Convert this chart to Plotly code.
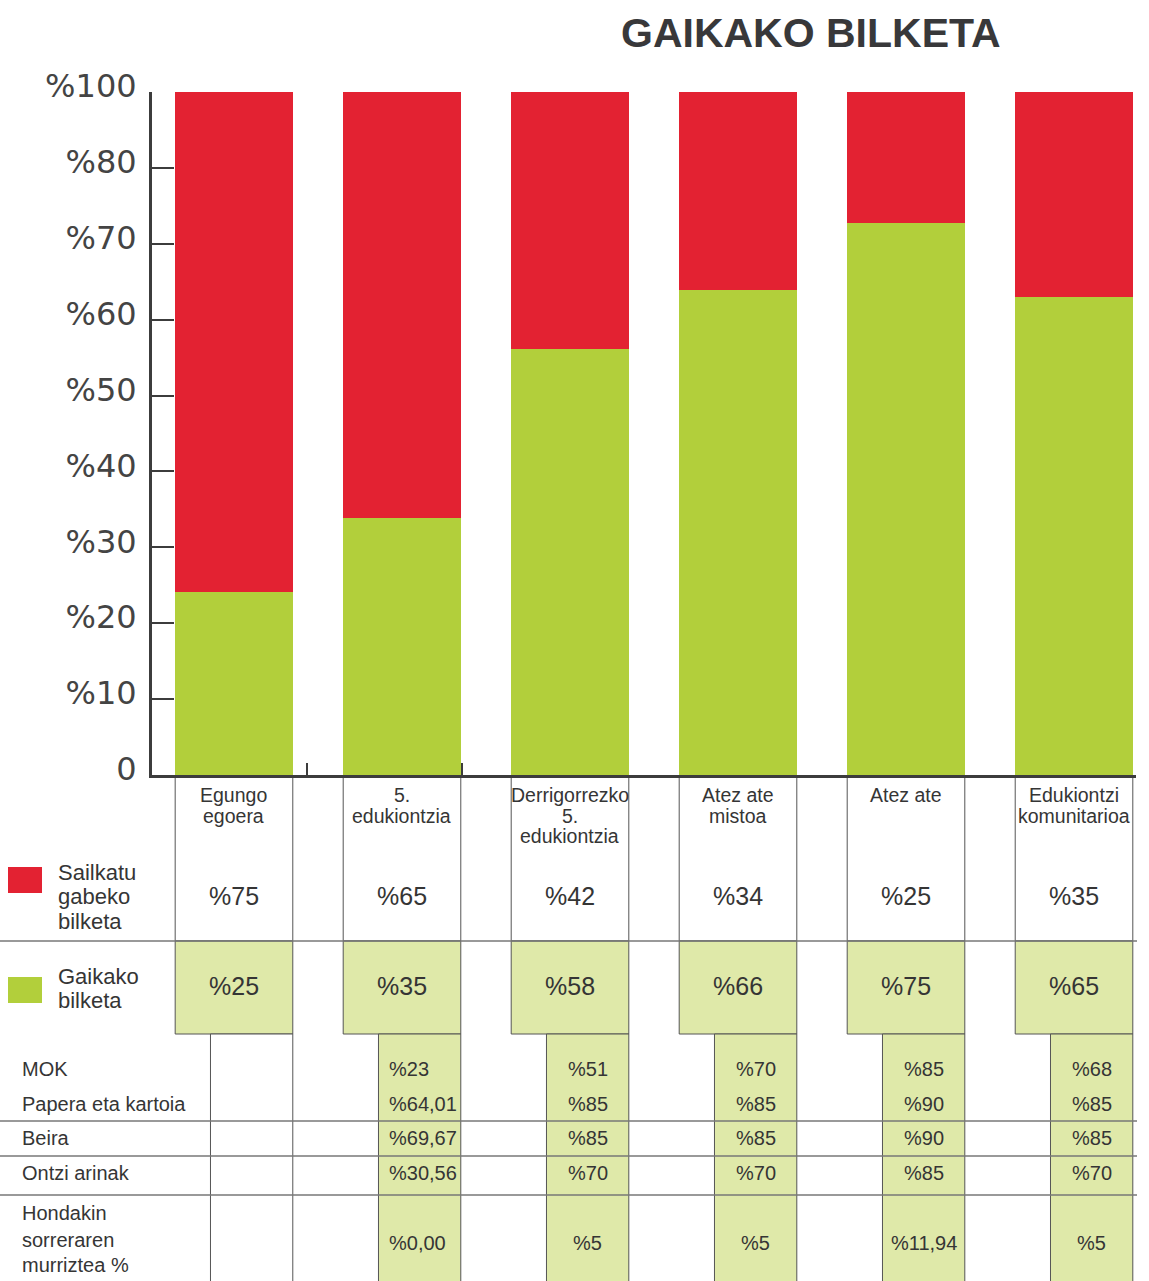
import plotly.graph_objects as go

# ---------------- data ----------------
title_text = "GAIKAKO BILKETA"
categories = ["Egungo\negoera", "5.\nedukiontzia", "Derrigorrezko\n5.\nedukiontzia",
              "Atez ate\nmistoa", "Atez ate", "Edukiontzi\nkomunitarioa"]
sailkatu_gabeko = ["%75", "%65", "%42", "%34", "%25", "%35"]
gaikako = ["%25", "%35", "%58", "%66", "%75", "%65"]
green_bar = [24.1, 33.9, 56.1, 63.9, 72.7, 63.0]
red_bar = [65.9, 56.1, 33.9, 26.1, 17.3, 27.0]
ytick_vals = [0, 10, 20, 30, 40, 50, 60, 70, 80, 90]
ytick_text = ["0", "%10", "%20", "%30", "%40", "%50", "%60", "%70", "%80", "%100"]
legend_labels = ["Sailkatu\ngabeko\nbilketa", "Gaikako\nbilketa"]
row_labels = ["MOK", "Papera eta kartoia", "Beira", "Ontzi arinak",
              "Hondakin\nsorreraren\nmurriztea %"]
mok = ["", "%23", "%51", "%70", "%85", "%68"]
papera = ["", "%64,01", "%85", "%85", "%90", "%85"]
beira = ["", "%69,67", "%85", "%85", "%90", "%85"]
ontzi = ["", "%30,56", "%70", "%70", "%85", "%70"]
murriztea = ["", "%0,00", "%5", "%5", "%11,94", "%5"]
table_rows = [mok, papera, beira, ontzi, murriztea]

# ---------------- style ----------------
W, H = 1149, 1281
ML, MR, MT, MB = 152, 13, 92, 506
RED = "#e32232"
GREEN = "#b2cf3b"
LIGHT = "#dfe9a9"
TXT = "#353535"
LINE = "#555555"
FONT = "Liberation Sans, Arial, sans-serif"

def py(Y):  # pixel row -> paper y
    return (H - MB - Y) / (H - MB - MT)

def pxp(X):  # pixel column -> paper x
    return (X - ML) / (W - ML - MR)

xs = list(range(len(categories)))
half = 0.35

fig = go.Figure()
fig.add_trace(go.Bar(x=xs, y=green_bar, marker=dict(color=GREEN, line=dict(width=0)),
                     width=2 * half, name="Gaikako bilketa", hoverinfo="skip"))
fig.add_trace(go.Bar(x=xs, y=red_bar, marker=dict(color=RED, line=dict(width=0)),
                     width=2 * half, name="Sailkatu gabeko bilketa", hoverinfo="skip"))

shapes = []
ann = []

def text(x, y, s, size, xref="x", xanchor="center", color=TXT, font=FONT):
    ann.append(dict(x=x, y=y, xref=xref, yref="paper", text=s, showarrow=False,
                    xanchor=xanchor, yanchor="middle",
                    font=dict(family=font, size=size, color=color)))

# title
ann.append(dict(x=pxp(811), y=py(33), xref="paper", yref="paper", text="<b>%s</b>" % title_text,
                showarrow=False, xanchor="center", yanchor="middle",
                font=dict(family=FONT, size=41, color="#38383a")))

# upper table cells
for i in xs:
    shapes.append(dict(type="rect", xref="x", yref="paper", x0=i - half, x1=i + half,
                       y0=py(775), y1=py(941), fillcolor="white",
                       line=dict(color=LINE, width=1), layer="below"))
    shapes.append(dict(type="rect", xref="x", yref="paper", x0=i - half, x1=i + half,
                       y0=py(941), y1=py(1034), fillcolor=LIGHT,
                       line=dict(color=LINE, width=1), layer="below"))
    # lower column
    shapes.append(dict(type="rect", xref="x", yref="paper", x0=i - 0.14, x1=i + half,
                       y0=py(1034), y1=py(1300), fillcolor=("white" if i == 0 else LIGHT),
                       line=dict(color=LINE, width=1), layer="below"))
    # category names
    lines = categories[i].split("\n")
    for k, ln in enumerate(lines):
        text(i, py(795 + 20.5 * k), ln, 19.5)
    text(i, py(896), sailkatu_gabeko[i], 25)
    text(i, py(986), gaikako[i], 25)

# full-width horizontal rules
for Y in [941, 1121, 1156, 1195]:
    shapes.append(dict(type="line", xref="paper", yref="paper", x0=pxp(0), x1=pxp(1137),
                       y0=py(Y), y1=py(Y), line=dict(color="#777777", width=1.5), layer="above"))

# legend
legend_colors = [RED, GREEN]
legend_sq = [(867, 893), (977, 1003)]
legend_text_y = [872, 976]
for lab, col, (y0, y1), ty in zip(legend_labels, legend_colors, legend_sq, legend_text_y):
    shapes.append(dict(type="rect", xref="paper", yref="paper", x0=pxp(8), x1=pxp(42),
                       y0=py(y0), y1=py(y1), fillcolor=col, line=dict(width=0)))
    for k, ln in enumerate(lab.split("\n")):
        text(pxp(56), py(ty + 24.5 * k), ln, 22, xref="paper", xanchor="left")

# lower table
row_y = [1069, 1104, 1138, 1173, 1243]
label_y = [[1069], [1104], [1138], [1173], [1213, 1240, 1265]]
for lab, ys in zip(row_labels, label_y):
    for ln, Y in zip(lab.split("\n"), ys):
        text(pxp(20), py(Y), ln, 20, xref="paper", xanchor="left")
for row, Y in zip(table_rows, row_y):
    for i, v in enumerate(row):
        if not v:
            continue
        if i == 1:
            text(i - 0.087, py(Y), v, 20, xanchor="left")
        else:
            text(i + 0.105, py(Y), v, 20)

fig.update_layout(
    width=W, height=H,
    margin=dict(l=ML, r=MR, t=MT, b=MB, pad=0),
    paper_bgcolor="white", plot_bgcolor="white",
    barmode="stack", showlegend=False,
    shapes=shapes, annotations=ann,
    xaxis=dict(range=[-0.488, 5.369], showgrid=False, zeroline=False,
               showline=True, linecolor="#3c3c3c", linewidth=3,
               tickmode="array", tickvals=[0.435, 1.357], ticktext=["", ""],
               ticks="inside", ticklen=12, tickwidth=2, tickcolor="#3c3c3c",
               showticklabels=False),
    yaxis=dict(range=[0, 90], showgrid=False, zeroline=False,
               showline=True, linecolor="#3c3c3c", linewidth=3,
               tickmode="array", tickvals=ytick_vals, ticktext=ytick_text,
               ticks="inside", ticklen=22, tickwidth=2, tickcolor="#3c3c3c",
               ticklabelstandoff=6, ticklabelshift=-6,
               tickfont=dict(family="DejaVu Sans", size=32, color="#444444")),
)

fig.write_html("out.html", config={"displayModeBar": False, "staticPlot": True},
               post_script="document.body.style.margin='0';document.body.style.overflow='hidden';")
